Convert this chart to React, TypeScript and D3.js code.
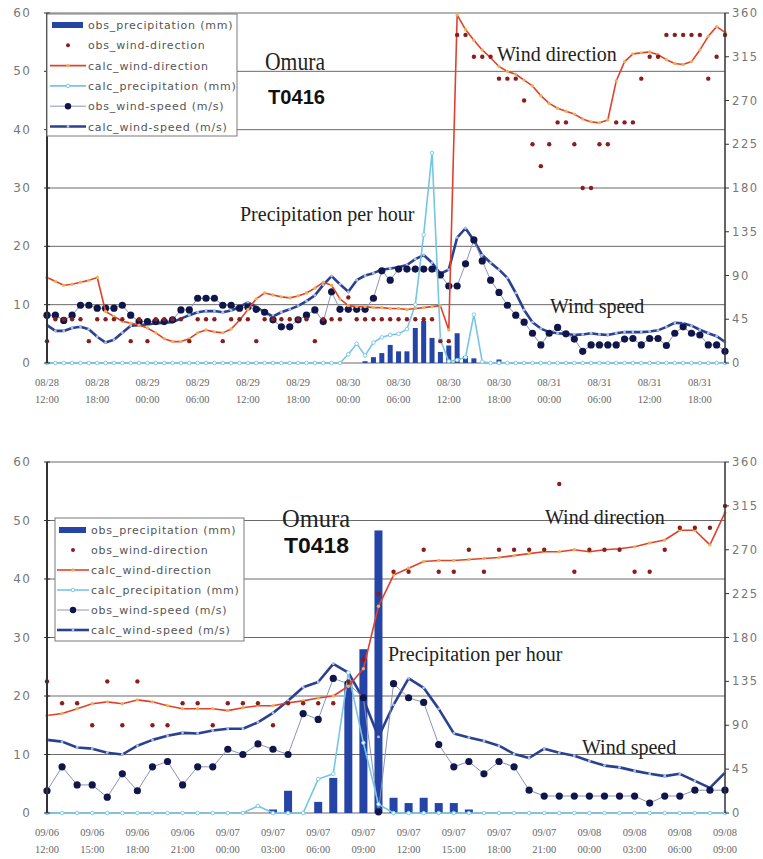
import React from 'react';
import * as d3 from 'd3';

const W = 763;
const H = 859;
const X0 = 47;
const X1 = 725;

// ---- T0416, Omura: hourly, 08/28 12:00 .. 08/31 21:00 (82 hours) ----
const t0416TickLabels = [
  '08/28 12:00', '08/28 18:00', '08/29 00:00', '08/29 06:00', '08/29 12:00', '08/29 18:00', '08/30 00:00',
  '08/30 06:00', '08/30 12:00', '08/30 18:00', '08/31 00:00', '08/31 06:00', '08/31 12:00', '08/31 18:00',
];
const t0416TickStep = 6;

const t0416ObsPrecip = [
  0, 0, 0, 0, 0, 0, 0, 0, 0, 0,
  0, 0, 0, 0, 0, 0, 0, 0, 0, 0,
  0, 0, 0, 0, 0, 0, 0, 0, 0, 0,
  0, 0, 0, 0, 0, 0, 0, 0, 0.3, 1.0,
  1.7, 3.1, 2.0, 2.0, 6.0, 7.2, 4.3, 1.9, 3.0, 5.1,
  1.2, 0.8, 0, 0, 0.6, 0, 0, 0, 0, 0,
  0, 0, 0, 0, 0, 0, 0, 0, 0, 0,
  0, 0, 0, 0, 0, 0, 0, 0, 0, 0,
  0, 0,
];
const t0416ObsDir = [
  22.5, 45, 45, 45, 45, 22.5, 45, 45, 45, 45,
  22.5, 45, 22.5, 45, 45, 45, 45, 22.5, 45, 45,
  45, 22.5, 45, 45, 45, 22.5, 45, 45, 45, 45,
  45, 45, 22.5, 45, 45, 45, 67.5, 45, 45, 45,
  45, 45, 45, 45, 45, 45, 45, 22.5, 22.5, 337.5,
  337.5, 315, 315, 315, 292.5, 292.5, 292.5, 270, 225, 202.5,
  225, 247.5, 247.5, 225, 180, 180, 225, 225, 247.5, 247.5,
  247.5, 292.5, 315, 315, 337.5, 337.5, 337.5, 337.5, 337.5, 292.5,
  315, 337.5,
];
const t0416CalcDir = [
  88, 84, 80, 81, 83, 85, 88, 53, 48, 43,
  41, 39, 36, 31, 25, 22, 22, 25, 31, 34,
  32, 31, 35, 44, 55, 66, 72, 70, 68, 67,
  69, 72, 77, 83, 80, 66, 59, 58, 58, 57,
  57, 56, 56, 55, 56, 57, 58, 59, 34, 358,
  343, 332, 322, 314, 305, 300, 297, 291, 285, 275,
  267, 262, 259, 256, 251, 248, 247, 250, 290, 310,
  318, 319, 320, 317, 312, 308, 307, 310, 322, 336,
  346, 340,
];
const t0416CalcPrecip = [
  0, 0, 0, 0, 0, 0, 0, 0, 0, 0,
  0, 0, 0, 0, 0, 0, 0, 0, 0, 0,
  0, 0, 0, 0, 0, 0, 0, 0, 0, 0,
  0, 0, 0, 0, 0, 0, 1.5, 3.3, 1.3, 3.5,
  4.4, 4.8, 5.0, 5.8, 10, 22, 36, 4, 0.3, 0.5,
  1.0, 8.3, 0.2, 0, 0, 0, 0, 0, 0, 0,
  0, 0, 0, 0, 0, 0, 0, 0, 0, 0,
  0, 0, 0, 0, 0, 0, 0, 0, 0, 0,
  0, 0,
];
const t0416ObsSpeed = [
  8.2, 8.2, 7.3, 8.2, 9.9, 9.9, 9.4, 9.4, 9.4, 9.9,
  8.2, 7.1, 7.1, 7.1, 7.1, 7.4, 9.1, 9.1, 11.1, 11.1,
  11.1, 9.9, 9.9, 9.4, 9.6, 9.2, 8.7, 7.4, 6.2, 6.2,
  7.4, 8.2, 9.1, 7.1, 12.2, 9.2, 9.2, 9.2, 9.2, 11.1,
  15.8, 14.2, 16.1, 16.1, 16.1, 16.1, 16.1, 15.1, 13.2, 13.2,
  17.0, 21.1, 17.5, 14.2, 12.1, 9.9, 8.2, 7.0, 5.1, 3.1,
  5.1, 6.1, 5.0, 4.1, 2.0, 3.1, 3.1, 3.1, 3.1, 4.1,
  4.2, 3.1, 4.2, 4.2, 3.0, 5.1, 6.2, 5.1, 4.8, 3.1,
  3.1, 2.0,
];
const t0416CalcSpeed = [
  6.5, 5.5, 5.5, 6.0, 6.2, 5.8, 4.5, 3.5, 4.0, 5.2,
  6.4, 6.5, 6.6, 6.8, 6.9, 7.0, 7.6, 8.2, 8.7, 8.9,
  8.9, 8.7, 9.0, 9.6, 10.4, 9.6, 8.7, 8.0, 8.7, 9.2,
  9.8, 10.6, 11.6, 13.4, 14.9, 13.5, 12.2, 14.2, 15.0, 15.4,
  16.0, 16.2, 16.4, 16.8, 17.8, 18.5, 17.2, 15.3, 16.0, 21.5,
  23.1, 21.0, 18.5, 17.2, 16.0, 14.6, 12.0, 9.1, 7.0, 5.9,
  5.3, 5.1, 5.0, 4.8, 4.9, 5.1, 4.9, 4.8, 5.1, 5.3,
  5.3, 5.3, 5.4, 5.6, 6.2, 6.9, 6.8, 6.4, 5.7, 5.1,
  4.6, 3.6,
];

// ---- T0418, Omura: hourly, 09/06 12:00 .. 09/08 09:00 (46 hours) ----
const t0418TickLabels = [
  '09/06 12:00', '09/06 15:00', '09/06 18:00', '09/06 21:00', '09/07 00:00', '09/07 03:00', '09/07 06:00', '09/07 09:00',
  '09/07 12:00', '09/07 15:00', '09/07 18:00', '09/07 21:00', '09/08 00:00', '09/08 03:00', '09/08 06:00', '09/08 09:00',
];
const t0418TickStep = 3;

const t0418ObsPrecip = [
  0, 0, 0, 0, 0, 0, 0, 0, 0, 0,
  0, 0, 0, 0, 0, 0.6, 3.8, 0, 1.9, 6.0,
  22.5, 28.0, 48.3, 2.6, 1.7, 2.6, 1.7, 1.7, 0.6, 0,
  0, 0, 0, 0, 0, 0, 0, 0, 0, 0,
  0, 0, 0, 0, 0, 0,
];
const t0418ObsDir = [
  135, 112.5, 112.5, 90, 135, 90, 135, 90, 90, 112.5,
  112.5, 90, 112.5, 112.5, 112.5, 90, 112.5, 112.5, 112.5, 112.5,
  135, 157.5, 225, 247.5, 247.5, 270, 247.5, 247.5, 270, 247.5,
  270, 270, 270, 270, 337.5, 247.5, 270, 270, 270, 247.5,
  247.5, 270, 292.5, 292.5, 292.5, 315,
];
const t0418CalcDir = [
  100, 102, 107, 112, 114, 112, 116, 114, 110, 107,
  107, 107, 105, 108, 110, 110, 113, 115, 118, 120,
  130, 148, 212, 244, 251, 258, 259, 259, 260, 261,
  262, 264, 266, 268, 268, 270, 268, 270, 271, 273,
  277, 280, 290, 290, 275, 308,
];
const t0418CalcPrecip = [
  0, 0, 0, 0, 0, 0, 0, 0, 0, 0,
  0, 0, 0, 0, 1.2, 0, 0, 0, 5.8, 6.7,
  24, 12, 1.5, 0, 0, 0, 0, 0, 0, 0,
  0, 0, 0, 0, 0, 0, 0, 0, 0, 0,
  0, 0, 0, 0, 0, 0,
];
const t0418ObsSpeed = [
  3.8, 7.9, 4.8, 4.8, 2.7, 6.7, 3.8, 7.9, 8.8, 4.8,
  7.9, 7.9, 10.9, 10.0, 11.8, 10.9, 10.0, 17.0, 16.0, 23.0,
  22.1, 19.7, 0.2, 22.1, 19.7, 18.9, 11.7, 7.9, 8.8, 6.7,
  8.8, 7.9, 3.9, 2.9, 2.9, 2.9, 2.9, 2.9, 2.9, 2.9,
  1.7, 2.9, 2.9, 3.9, 3.9, 3.9,
];
const t0418CalcSpeed = [
  12.5, 12.2, 11.2, 11.0, 10.3, 10.0, 11.5, 12.5, 13.2, 13.7,
  13.6, 14.1, 14.4, 14.4, 15.5, 17.1, 19.2, 21.5, 22.4, 25.5,
  24.0, 19.5, 13.0, 18.5, 23.0, 21.4, 17.8, 13.6, 12.9, 12.3,
  11.5, 10.1, 9.4, 11.0, 10.3, 9.8, 8.9, 8.1, 7.8, 7.2,
  6.7, 6.3, 6.7, 5.5, 4.3, 6.9,
];

const leftTicks = [0, 10, 20, 30, 40, 50, 60];
const rightTicks = [0, 45, 90, 135, 180, 225, 270, 315, 360];
const legendLabels = [
  'obs_precipitation (mm)',
  'obs_wind-direction',
  'calc_wind-direction',
  'calc_precipitation (mm)',
  'obs_wind-speed (m/s)',
  'calc_wind-speed (m/s)',
];

const C = {
  bar: '#2444a6',
  obsDir: '#8a1d1d',
  calcDir: '#e2402c',
  calcDirMk: '#e6b45c',
  calcPrecip: '#74c6e6',
  obsSpeedLine: '#8a94b8',
  obsSpeedDot: '#10164a',
  calcSpeed: '#2a4190',
  calcSpeedMk: '#b0c0e8',
  grid: '#6a6a6a',
  axis: '#333',
  tick: '#777',
};

const SANS = 'DejaVu Sans, sans-serif';
const SERIF = 'Liberation Serif, Times New Roman, serif';

type Note = { text: string; x: number; y: number };

type PanelProps = {
  obsPrecip: number[];
  obsDir: number[];
  calcDir: number[];
  calcPrecip: number[];
  obsSpeed: number[];
  calcSpeed: number[];
  tickLabels: string[];
  tickStep: number;
  y0: number;
  y60: number;
  barW: number;
  legend: { x: number; y: number; w: number; h: number; rowTop: number; rowGap: number; symX0: number; symX1: number };
  title: { x: number; y: number; len: number; size: number };
  code: { text: string; x: number; y: number; len: number; size: number };
  notes: Note[];
  labelY: number;
};

function Panel(p: PanelProps) {
  const n = p.calcSpeed.length;
  const idx = d3.range(n);
  const x = d3.scaleLinear().domain([0, n - 1]).range([X0, X1]);
  const yL = d3.scaleLinear().domain([0, 60]).range([p.y0, p.y60]);
  const yR = d3.scaleLinear().domain([0, 360]).range([p.y0, p.y60]);
  const lineOf = (arr: number[], y: d3.ScaleLinear<number, number>) =>
    d3.line<number>().x((i) => x(i)).y((i) => y(arr[i]))(idx) || '';

  const lg = p.legend;
  const symMid = (lg.symX0 + lg.symX1) / 2;

  return (
    <g>
      {/* grid lines */}
      {leftTicks.map((t) => (
        <line key={'g' + t} x1={X0} x2={X1} y1={yL(t)} y2={yL(t)} stroke={C.grid} strokeWidth={1} />
      ))}

      {/* observed precipitation bars */}
      {idx.filter((i) => p.obsPrecip[i] > 0).map((i) => (
        <rect key={'b' + i} x={x(i) - p.barW / 2} y={yL(p.obsPrecip[i])} width={p.barW}
          height={yL(0) - yL(p.obsPrecip[i])} fill={C.bar} />
      ))}

      {/* calculated wind speed */}
      <path d={lineOf(p.calcSpeed, yL)} fill="none" stroke={C.calcSpeed} strokeWidth={2.6} strokeLinejoin="round" />
      {idx.map((i) => (
        <circle key={'cs' + i} cx={x(i)} cy={yL(p.calcSpeed[i])} r={1.4} fill={C.calcSpeedMk} />
      ))}

      {/* observed wind speed */}
      <path d={lineOf(p.obsSpeed, yL)} fill="none" stroke={C.obsSpeedLine} strokeWidth={1} />
      {idx.map((i) => (
        <circle key={'os' + i} cx={x(i)} cy={yL(p.obsSpeed[i])} r={3.6} fill={C.obsSpeedDot} />
      ))}

      {/* calculated precipitation */}
      <path d={lineOf(p.calcPrecip, yL)} fill="none" stroke={C.calcPrecip} strokeWidth={1.6} />
      {idx.map((i) => (
        <circle key={'cp' + i} cx={x(i)} cy={yL(p.calcPrecip[i])} r={1.8} fill="#fff" stroke={C.calcPrecip} strokeWidth={0.9} />
      ))}

      {/* calculated wind direction */}
      <path d={lineOf(p.calcDir, yR)} fill="none" stroke={C.calcDir} strokeWidth={1.6} strokeLinejoin="round" />
      {idx.map((i) => (
        <circle key={'cd' + i} cx={x(i)} cy={yR(p.calcDir[i])} r={1.7} fill={C.calcDirMk} />
      ))}

      {/* observed wind direction */}
      {idx.map((i) => (
        <circle key={'od' + i} cx={x(i)} cy={yR(p.obsDir[i])} r={2.2} fill={C.obsDir} />
      ))}

      {/* axes */}
      <line x1={X0} x2={X0} y1={p.y60} y2={p.y0} stroke={C.axis} strokeWidth={2} />
      <line x1={X1} x2={X1} y1={p.y60} y2={p.y0} stroke={C.axis} strokeWidth={1.5} />
      {leftTicks.map((t) => (
        <g key={'lt' + t}>
          <line x1={X0 - 3} x2={X0 + 3} y1={yL(t)} y2={yL(t)} stroke={C.axis} strokeWidth={1} />
          <text x={31} y={yL(t) + 4} textAnchor="end" fontFamily={SANS} fontSize={12} letterSpacing={1.2} fill={C.tick}>{t}</text>
        </g>
      ))}
      {rightTicks.map((t) => (
        <g key={'rt' + t}>
          <line x1={X1} x2={X1 + 4} y1={yR(t)} y2={yR(t)} stroke={C.axis} strokeWidth={1} />
          <text x={732} y={yR(t) + 4} fontFamily={SANS} fontSize={11.5} letterSpacing={1.6} fill={C.tick}>{t}</text>
        </g>
      ))}
      {p.tickLabels.map((lab, k) => {
        const [d, h] = lab.split(' ');
        const cx = x(k * p.tickStep);
        return (
          <text key={'xl' + k} x={cx} y={p.labelY} textAnchor="middle" fontFamily={SERIF} fontSize={10.5} fill="#666">
            <tspan x={cx}>{d}</tspan>
            <tspan x={cx} dy={17}>{h}</tspan>
          </text>
        );
      })}

      {/* legend */}
      <rect x={lg.x} y={lg.y} width={lg.w} height={lg.h} fill="#fff" stroke="#7a7a7a" strokeWidth={1} />
      {legendLabels.map((lab, k) => {
        const ry = lg.y + lg.rowTop + k * lg.rowGap;
        let sym: React.ReactNode = null;
        if (k === 0) sym = <rect x={lg.symX0 + 2} y={ry - 3} width={lg.symX1 - lg.symX0 - 5} height={6} fill={C.bar} />;
        if (k === 1) sym = <circle cx={symMid} cy={ry} r={2} fill={C.obsDir} />;
        if (k === 2) sym = (<g><line x1={lg.symX0} x2={lg.symX1} y1={ry} y2={ry} stroke={C.calcDir} strokeWidth={1.6} /><circle cx={symMid} cy={ry} r={1.7} fill={C.calcDirMk} /></g>);
        if (k === 3) sym = (<g><line x1={lg.symX0} x2={lg.symX1} y1={ry} y2={ry} stroke={C.calcPrecip} strokeWidth={1.6} /><circle cx={symMid} cy={ry} r={1.8} fill="#fff" stroke={C.calcPrecip} strokeWidth={0.9} /></g>);
        if (k === 4) sym = (<g><line x1={lg.symX0} x2={lg.symX1} y1={ry} y2={ry} stroke={C.obsSpeedLine} strokeWidth={1} /><circle cx={symMid} cy={ry} r={3.2} fill={C.obsSpeedDot} /></g>);
        if (k === 5) sym = (<g><line x1={lg.symX0} x2={lg.symX1} y1={ry} y2={ry} stroke={C.calcSpeed} strokeWidth={2.6} /><circle cx={symMid} cy={ry} r={1.4} fill={C.calcSpeedMk} /></g>);
        return (
          <g key={'lg' + k}>
            {sym}
            <text x={lg.symX1 + 2} y={ry + 4} fontFamily={SANS} fontSize={11} letterSpacing={0.8} fill="#555">{lab}</text>
          </g>
        );
      })}

      {/* titles and annotations */}
      <text x={p.title.x} y={p.title.y} fontFamily={SERIF} fontSize={p.title.size} textLength={p.title.len}
        lengthAdjust="spacingAndGlyphs" fill="#222">Omura</text>
      <text x={p.code.x} y={p.code.y} fontFamily="Liberation Sans, Arial, sans-serif" fontWeight="bold" fontSize={p.code.size}
        textLength={p.code.len} lengthAdjust="spacingAndGlyphs" fill="#111">{p.code.text}</text>
      {p.notes.map((nt) => (
        <text key={nt.text} x={nt.x} y={nt.y} fontFamily={SERIF} fontSize={20} fill="#222">{nt.text}</text>
      ))}
    </g>
  );
}

export default function App() {
  return (
    <svg width={W} height={H} viewBox={`0 0 ${W} ${H}`} style={{ position: 'absolute', left: 0, top: 0, background: '#fff' }}>
      <rect width={W} height={H} fill="#fff" />
      <Panel
        obsPrecip={t0416ObsPrecip}
        obsDir={t0416ObsDir}
        calcDir={t0416CalcDir}
        calcPrecip={t0416CalcPrecip}
        obsSpeed={t0416ObsSpeed}
        calcSpeed={t0416CalcSpeed}
        tickLabels={t0416TickLabels}
        tickStep={t0416TickStep}
        y0={363}
        y60={13}
        barW={5}
        legend={{ x: 47, y: 14, w: 190, h: 122, rowTop: 11, rowGap: 20.3, symX0: 50, symX1: 86 }}
        title={{ x: 265, y: 70, len: 60, size: 25 }}
        code={{ text: 'T0416', x: 268, y: 104, len: 57, size: 21 }}
        notes={[
          { text: 'Wind direction', x: 497, y: 61 },
          { text: 'Precipitation per hour', x: 240, y: 221 },
          { text: 'Wind speed', x: 550, y: 313 },
        ]}
        labelY={386}
      />
      <Panel
        obsPrecip={t0418ObsPrecip}
        obsDir={t0418ObsDir}
        calcDir={t0418CalcDir}
        calcPrecip={t0418CalcPrecip}
        obsSpeed={t0418ObsSpeed}
        calcSpeed={t0418CalcSpeed}
        tickLabels={t0418TickLabels}
        tickStep={t0418TickStep}
        y0={813}
        y60={462}
        barW={8}
        legend={{ x: 55, y: 518, w: 189, h: 123, rowTop: 12, rowGap: 20, symX0: 57, symX1: 89 }}
        title={{ x: 282, y: 527, len: 68, size: 25 }}
        code={{ text: 'T0418', x: 284, y: 553, len: 65, size: 22 }}
        notes={[
          { text: 'Wind direction', x: 545, y: 524 },
          { text: 'Precipitation per hour', x: 388, y: 661 },
          { text: 'Wind speed', x: 582, y: 754 },
        ]}
        labelY={836}
      />
    </svg>
  );
}
